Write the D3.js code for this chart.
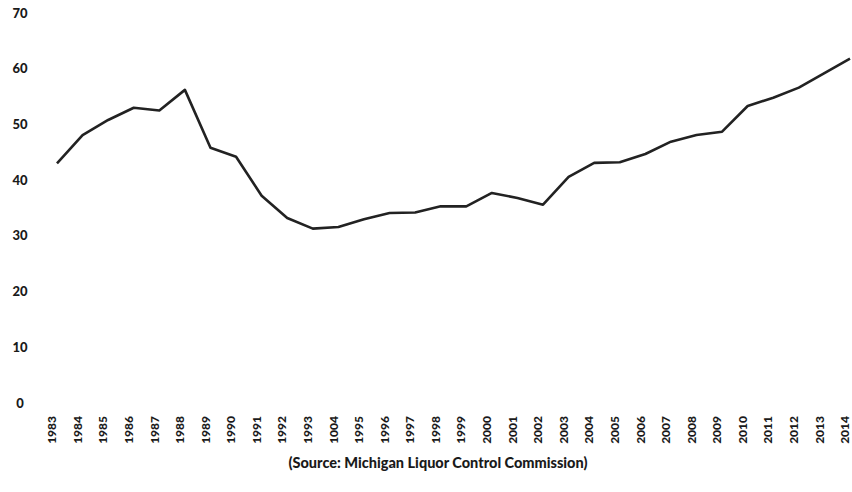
<!DOCTYPE html>
<html>
<head>
<meta charset="utf-8">
<script src="https://cdn.jsdelivr.net/npm/d3@7"></script>
<style>
  body { margin: 0; background: #fff; }
  svg text { font-family: Lato, "Open Sans", sans-serif; font-weight: 900; fill: #1a1a1a; }
</style>
</head>
<body>
<div id="wrapper"></div>
<script>
// data (the "1004" label is as printed)
const yearLabels = ["1983","1984","1985","1986","1987","1988","1989","1990","1991","1992",
  "1993","1004","1995","1996","1997","1998","1999","2000","2001","2002","2003",
  "2004","2005","2006","2007","2008","2009","2010","2011","2012","2013","2014"];
const values = [43.0, 48.1, 50.8, 53.0, 52.5, 56.2, 45.8, 44.2, 37.2, 33.2,
  31.3, 31.6, 33.0, 34.1, 34.2, 35.3, 35.3, 37.7, 36.8, 35.6, 40.6,
  43.1, 43.2, 44.7, 46.9, 48.1, 48.7, 53.3, 54.8, 56.6, 59.2, 61.8];
const yTicks = [0, 10, 20, 30, 40, 50, 60, 70];
const sourceText = "(Source: Michigan Liquor Control Commission)";

const dataset = yearLabels.map((y, i) => ({ year: y, value: values[i] }));
const xAccessor = d => d.year;
const yAccessor = d => d.value;

const dimensions = {
  width: 852,
  height: 492,
  margin: { top: 13, right: 2, bottom: 89, left: 57 },
}
dimensions.boundedWidth = dimensions.width - dimensions.margin.left - dimensions.margin.right
dimensions.boundedHeight = dimensions.height - dimensions.margin.top - dimensions.margin.bottom

const wrapper = d3.select("#wrapper")
  .append("svg")
    .attr("width", dimensions.width)
    .attr("height", dimensions.height)

const bounds = wrapper.append("g")
  .attr("transform", `translate(${dimensions.margin.left},${dimensions.margin.top})`)

// scales
const xScale = d3.scalePoint()
  .domain(yearLabels)
  .range([0, 793])

const yScale = d3.scaleLinear()
  .domain([0, 70])
  .range([dimensions.boundedHeight, 0])

// y labels (no axis line)
bounds.append("g")
  .selectAll("text")
  .data(yTicks)
  .join("text")
    .attr("x", -37)
    .attr("y", d => yScale(d))
    .attr("dy", "0.35em")
    .attr("text-anchor", "middle")
    .style("font-size", "13px")
    .text(d => d)

// x labels, rotated
bounds.append("g")
  .selectAll("text")
  .data(yearLabels)
  .join("text")
    .attr("transform", d => `translate(${xScale(d) - 5},${dimensions.boundedHeight + 13}) rotate(-90)`)
    .attr("dy", "0.35em")
    .attr("text-anchor", "end")
    .style("font-size", "12px")
    .text(d => d)

// line
const lineGenerator = d3.line()
  .x(d => xScale(xAccessor(d)))
  .y(d => yScale(yAccessor(d)))

bounds.append("path")
  .datum(dataset)
  .attr("d", lineGenerator)
  .attr("fill", "none")
  .attr("stroke", "#222")
  .attr("stroke-width", 2.6)
  .attr("stroke-linejoin", "round")

// source note
wrapper.append("text")
  .attr("x", 438)
  .attr("y", 468)
  .attr("text-anchor", "middle")
  .style("font-size", "14.5px")
  .text(sourceText)
</script>
</body>
</html>
